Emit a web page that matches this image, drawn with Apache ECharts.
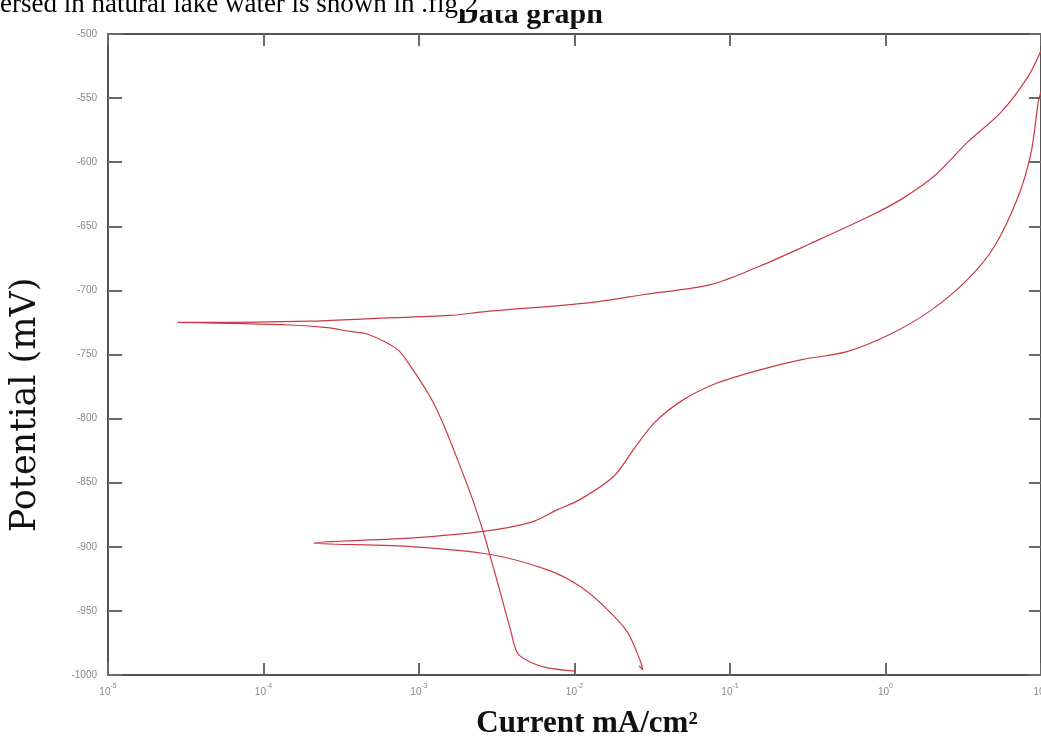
<!DOCTYPE html>
<html>
<head>
<meta charset="utf-8">
<script src="https://cdn.jsdelivr.net/npm/echarts@6/dist/echarts.min.js"></script>
<style>
  html, body { margin: 0; padding: 0; background: #fff; }
  #chart { width: 1041px; height: 744px; }
</style>
</head>
<body>
<div id="chart"></div>
<script>
// curve 1 (Ecorr about -725 mV), branches read from the tip outwards
const c1CathodicCurrent = [2.8e-5, 1.49e-4, 2.57e-4, 3.61e-4, 4.65e-4, 7.26e-4, 8.81e-4, 1.18e-3, 1.43e-3, 1.77e-3, 2.21e-3, 2.60e-3, 2.88e-3, 3.34e-3, 3.88e-3, 4.30e-3, 5.22e-3, 6.71e-3, 1.02e-2]
const c1CathodicPotential = [-725, -727, -729, -732, -734, -746, -759, -783, -804, -832, -863, -889, -908, -936, -965, -983, -990, -994.5, -997]
const c1AnodicCurrent = [2.8e-5, 4.09e-5, 2.0e-4, 4.87e-4, 1.59e-3, 2.68e-3, 1.27e-2, 2.87e-2, 7.52e-2, 0.156, 0.322, 0.794, 1.26, 2.05, 3.40, 5.54, 8.27, 10]
const c1AnodicPotential = [-725, -725, -724, -722, -719.5, -716.5, -709.5, -703, -695.5, -681, -664, -642, -629, -611, -584, -561, -533, -513]

// curve 2 (Ecorr about -897 mV)
const c2CathodicCurrent = [2.09e-4, 9.2e-4, 2.88e-3, 6.71e-3, 1.09e-2, 1.63e-2, 2.20e-2, 2.67e-2, 2.75e-2, 2.6e-2]
const c2CathodicPotential = [-897, -900, -906, -918, -931, -949, -967, -990, -996, -993]
const c2AnodicCurrent = [2.09e-4, 9.2e-4, 2.60e-3, 5.22e-3, 7.78e-3, 1.09e-2, 1.79e-2, 2.40e-2, 3.28e-2, 5.05e-2, 8.35e-2, 0.156, 0.290, 0.557, 1.08, 1.99, 3.40, 5.00, 7.13, 8.65, 9.6, 10]
const c2AnodicPotential = [-897, -893, -888, -881, -871, -863, -845, -824, -803, -785, -772, -762, -754, -748, -734, -715, -691, -666, -627, -592, -553, -545]

// axis ranges
const currentMin = 1e-5
const currentMax = 10
const potentialMin = -1000
const potentialMax = -500
const potentialStep = 50

// join cathodic (reversed) and anodic branch into one polyline
function buildCurve(ci, ce, ai, ae) {
  const pts = []
  for (let k = ci.length - 1; k >= 0; k--) pts.push([ci[k], ce[k]])
  for (let k = 1; k < ai.length; k++) pts.push([ai[k], ae[k]])
  return pts
}

const chart = echarts.init(document.getElementById('chart'))

const lineColor = '#c93a46'
const axisColor = '#555'
const tickStyle = { color: '#6a6a6a', width: 2 }

const option = {
  animation: false,
  backgroundColor: '#fff',
  grid: { left: 108, right: 0, top: 34, bottom: 69, outerBoundsMode: 'none', containLabel: false },
  xAxis: [
    {
      type: 'log',
      logBase: 10,
      min: currentMin,
      max: currentMax,
      position: 'bottom',
      axisLine: { show: true, lineStyle: { color: axisColor, width: 2 } },
      axisTick: { show: true, inside: true, length: 12, lineStyle: tickStyle },
      splitLine: { show: false },
      minorTick: { show: false },
      axisLabel: {
        margin: 8,
        formatter: function (v) {
          const e = Math.round(Math.log10(v))
          return '{b|10}{s|' + e + '}'
        },
        rich: {
          b: { fontSize: 10, color: '#888', fontFamily: 'Liberation Sans', lineHeight: 14, verticalAlign: 'bottom' },
          s: { fontSize: 7, color: '#888', fontFamily: 'Liberation Sans', lineHeight: 14, verticalAlign: 'top' }
        }
      },
      name: 'Current mA/cm²',
      nameLocation: 'middle',
      nameGap: 33,
      nameTextStyle: {
        fontFamily: 'Liberation Serif',
        fontWeight: 'bold',
        fontSize: 31,
        color: '#111',
        padding: [0, 0, 0, 25]
      }
    },
    {
      type: 'log',
      logBase: 10,
      min: currentMin,
      max: currentMax,
      position: 'top',
      axisLine: { show: true, lineStyle: { color: axisColor, width: 2 } },
      axisTick: { show: true, inside: true, length: 12, lineStyle: tickStyle },
      axisLabel: { show: false },
      splitLine: { show: false }
    }
  ],
  yAxis: [
    {
      type: 'value',
      min: potentialMin,
      max: potentialMax,
      interval: potentialStep,
      position: 'left',
      axisLine: { show: true, lineStyle: { color: axisColor, width: 2 } },
      axisTick: { show: true, inside: true, length: 14, lineStyle: tickStyle },
      splitLine: { show: false },
      axisLabel: {
        margin: 11,
        fontSize: 10,
        color: '#888',
        fontFamily: 'Liberation Sans',
        formatter: function (v) { return String(v) }
      }
    },
    {
      type: 'value',
      min: potentialMin,
      max: potentialMax,
      interval: potentialStep,
      position: 'right',
      axisLine: { show: true, lineStyle: { color: axisColor, width: 2 } },
      axisTick: { show: true, inside: true, length: 12, lineStyle: tickStyle },
      splitLine: { show: false },
      axisLabel: { show: false }
    }
  ],
  graphic: [
    {
      type: 'text',
      x: 530,
      y: 0,
      z: 1,
      style: { text: 'Data graph', font: 'bold 30px "Liberation Serif"', textAlign: 'center', fill: '#111' }
    },
    {
      // the caption line above hides the top of the title
      type: 'rect',
      z: 2,
      shape: { x: 450, y: 0, width: 170, height: 10 },
      style: { fill: '#fff' }
    },
    {
      type: 'text',
      x: 0,
      y: -9,
      z: 3,
      style: { text: 'ersed in natural lake water is shown in .fig.2', font: '27px "Liberation Serif"', fill: '#000' }
    },
    {
      type: 'text',
      x: 26,
      y: 405,
      rotation: Math.PI / 2,
      style: {
        text: 'Potential (mV)',
        font: '35px "DejaVu Serif"',
        textAlign: 'center',
        textVerticalAlign: 'middle',
        fill: '#111'
      }
    }
  ],
  series: [
    {
      type: 'line',
      xAxisIndex: 0,
      yAxisIndex: 0,
      data: buildCurve(c1CathodicCurrent, c1CathodicPotential, c1AnodicCurrent, c1AnodicPotential),
      showSymbol: false,
      smooth: 0.3,
      lineStyle: { color: lineColor, width: 1.2 },
      clip: true
    },
    {
      type: 'line',
      xAxisIndex: 0,
      yAxisIndex: 0,
      data: buildCurve(c2CathodicCurrent, c2CathodicPotential, c2AnodicCurrent, c2AnodicPotential),
      showSymbol: false,
      smooth: 0.3,
      lineStyle: { color: lineColor, width: 1.2 },
      clip: true
    }
  ]
}

chart.setOption(option)
</script>
</body>
</html>
